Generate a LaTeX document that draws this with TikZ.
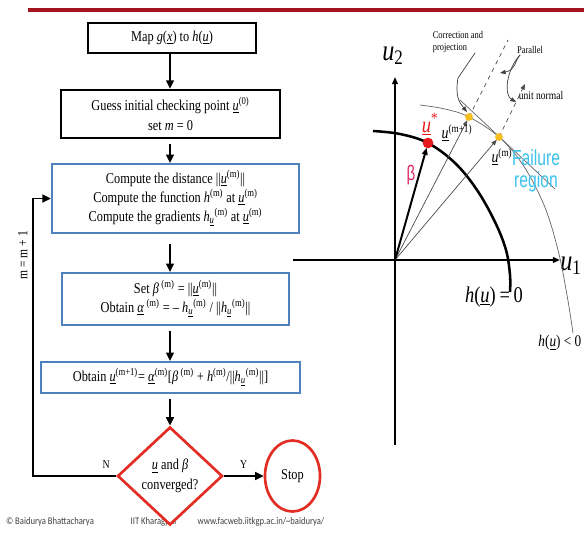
\documentclass[tikz,border=0pt]{standalone}
\usepackage{fontspec}
\setmainfont{Liberation Serif}[FakeStretch=0.82]
\newfontfamily\slidesans{Liberation Sans}[FakeStretch=0.72]
\newfontfamily\footsans{Carlito}[FakeStretch=0.85]
\usepackage{xcolor}
\usepackage{tikz}
\usetikzlibrary{arrows.meta,positioning,shapes.geometric}
\definecolor{slidered}{RGB}{165,20,30}
\definecolor{boxblue}{RGB}{79,129,189}
\definecolor{flowred}{RGB}{225,45,35}
\definecolor{betapink}{RGB}{220,40,100}
\definecolor{failcyan}{RGB}{60,195,235}
\definecolor{dotyellow}{RGB}{245,190,30}
\definecolor{ustarred}{RGB}{230,25,30}
\newcommand{\uvec}{\underline{\textit{u}}}
\newcommand{\supm}{\textsuperscript{(m)}}
\newcommand{\hgrad}{\textit{h}\textsubscript{\uvec}\supm}

\begin{document}
\begin{tikzpicture}[x=0.025cm, y=-0.025cm,
    stepbox/.style={draw, line width=1.8pt, inner sep=0pt, align=center, font=\fontsize{10.7}{13.5}\selectfont},
    bluebox/.style={stepbox, draw=boxblue, line width=1.5pt},
    decision/.style={diamond, draw=flowred, line width=1.9pt, fill=white, inner sep=0pt, align=center, font=\fontsize{10.7}{14}\selectfont},
    stopnode/.style={ellipse, draw=flowred, line width=1.9pt, inner sep=0pt, font=\fontsize{10.7}{13}\selectfont},
    flow/.style={-{Triangle[length=6pt,width=5.5pt]}, line width=1.4pt},
    lbl/.style={font=\fontsize{8.5}{10}\selectfont},
    axis/.style={-{Triangle[length=5pt,width=4pt]}, line width=1.2pt},
    ray/.style={-{Triangle[length=4pt,width=3pt]}, line width=0.5pt, black!70, shorten >=2.5pt},
    thinline/.style={line width=0.5pt, black!60},
    callout/.style={line width=0.5pt, black!75},
    note/.style={font=\fontsize{7.3}{9}\selectfont, align=left},
    foot/.style={font=\footsans\fontsize{7.2}{8}\selectfont, text=black!75},
]
\clip (0,0) rectangle (584,533);
\fill[white] (0,0) rectangle (584,533);

% === Slide rule ===
\draw[slidered, line width=2.2pt] (28,10) -- (584,10);

% === Footer ===
\node[foot] (copy) at (50,522) {© Baidurya Bhattacharya};
\node[foot] (inst) at (154,522) {IIT Kharagpur};
\node[foot] (web) at (261,522) {www.facweb.iitkgp.ac.in/\textasciitilde baidurya/};

% === Flow chart ===
\node[stepbox, minimum width=4.2cm, minimum height=0.75cm] (map) at (172,38)
    {Map \textit{g}(\underline{\textit{x}}) to \textit{h}(\uvec)};
\node[stepbox, minimum width=5.475cm, minimum height=1.2cm, font=\fontsize{10.7}{14.5}\selectfont] (guess) at (170.5,114)
    {Guess initial checking point \uvec\textsuperscript{(0)}\\set \textit{m} = 0};
\node[bluebox, minimum width=6.175cm, minimum height=1.725cm] (comp) at (175.5,198.5)
    {Compute the distance ||\uvec\supm||\\
     Compute the function \textit{h}\supm{} at \uvec\supm\\
     Compute the gradients \hgrad{} at \uvec\supm};
\node[bluebox, minimum width=5.675cm, minimum height=1.3cm] (setb) at (175.5,299)
    {Set \textit{β}\,\supm{} = ||\uvec\supm||\\
     Obtain \underline{\textit{α}}\,\supm{} = – \hgrad{} / ||\hgrad||};
\node[bluebox, minimum width=6.475cm, minimum height=0.775cm] (upd) at (170.5,377.5)
    {Obtain \uvec\textsuperscript{(m+1)}= \underline{\textit{α}}\supm[\textit{β}\,\supm{} + \textit{h}\supm/||\hgrad||]};
\node[decision, minimum width=2.625cm, minimum height=2.45cm] (conv) at (170,476)
    {\uvec{} and \textit{β}\\converged?};
\node[stopnode, minimum width=1.375cm, minimum height=1.775cm] (stop) at (292.5,476) {Stop};
\coordinate (back) at (33,476);

\draw[flow] (conv.north |- map.south) -- (conv.north |- guess.north);
\draw[flow, shorten <=3.5pt] (conv.north |- guess.south) -- (conv.north |- comp.north);
\draw[flow, shorten <=7pt] (conv.north |- comp.south) -- (conv.north |- setb.north);
\draw[flow, shorten <=3.5pt] (conv.north |- setb.south) -- (conv.north |- upd.north);
\draw[flow, shorten <=3.5pt] (upd.south -| conv.north) -- (conv.north);
\draw[flow] (conv.east) -- node[lbl, above=1pt] {Y} (stop.west);
\draw[flow] (conv.west) -- node[lbl, pos=0.12, above=1pt] {N} (back)
    |- node[pos=0.39, rotate=90, above=3pt, font=\fontsize{10}{11}\selectfont] {m = m + 1} (comp.west);

% === Standard normal space ===
\coordinate (O) at (395,260);
\coordinate (ustar) at (428,143);
\coordinate (ump1) at (469,117);
\coordinate (um) at (499,137);

\draw[axis] (293,260) -- (560,260);
\draw[axis] (395,445) -- (395,77);
\node[font=\fontsize{21}{21}\selectfont] (u1) at (571,266) {\textit{u}\textsubscript{1}};
\node[font=\fontsize{21}{21}\selectfont] (u2) at (393,56) {\textit{u}\textsubscript{2}};

% limit state h(u)=0
\draw[line width=1.8pt] plot[smooth, tension=0.6] coordinates
    {(373,131) (400,134) (428,143) (455,163) (477,190) (495,222) (506,250) (510,275) (510,292)};
% linearised surface and approximation
\draw[thinline] plot[smooth, tension=0.6] coordinates
    {(420,105) (445,109) (469,117) (499,137) (523,165) (544,205) (558,250) (567,295) (573,333)};
\draw[thinline] (460,100) -- (555,189);

% rays from origin
\draw[ray] (O) -- (ump1);
\draw[ray] (O) -- (um);
\draw[-{Triangle[length=5pt,width=4pt]}, line width=1.4pt, shorten >=3.5pt] (O) -- (ustar);
\draw[dashed, line width=0.5pt, black!70] (ump1) -- (508,40);
\draw[dashed, line width=0.5pt, black!70, -{Triangle[length=4pt,width=3pt]}] (um) -- (525,84);

% callouts
\draw[callout, -{Triangle[length=4pt,width=3pt]}] (475,53) -- (458,78)
    .. controls (455,96) and (459,102) .. (467,112);
\draw[callout, -{Triangle[length=4pt,width=3pt]}] (520,55)
    .. controls (514,62) and (516,70) .. (500,73);
\draw[callout, -{Triangle[length=4pt,width=3pt]}] (520,55)
    .. controls (506,70) and (504,95) .. (516,102);

\fill[dotyellow] (ump1) circle[radius=2.8pt];
\fill[dotyellow] (um) circle[radius=2.8pt];
\fill[ustarred] (ustar) circle[radius=3.8pt];

% labels
\node[note] (corr) at (458,42) {Correction and\\projection};
\node[note] (par) at (530,50) {Parallel};
\node[note, font=\fontsize{8.3}{9}\selectfont] (unorm) at (541,96) {unit normal};
\node[text=ustarred, font=\fontsize{16}{16}\selectfont] (ustarlbl) at (430,124) {\uvec\textsuperscript{*}};
\node[font=\fontsize{12}{12}\selectfont] (ump1lbl) at (457,133) {\uvec\textsuperscript{(m+1)}};
\node[font=\fontsize{12}{12}\selectfont] (umlbl) at (502,157) {\uvec\textsuperscript{(m)}};
\node[text=betapink, font=\slidesans\fontsize{15}{15}\selectfont] (betalbl) at (411,175) {β};
\node[text=failcyan, font=\slidesans\fontsize{15.5}{16}\selectfont, align=center] (fail) at (536,171) {Failure\\region};
\node[font=\fontsize{16}{16}\selectfont] (hzero) at (494,297) {\textit{h}(\uvec)\,=\,0};
\node[font=\fontsize{11.5}{12}\selectfont, anchor=east, inner sep=1pt] (hneg) at (583,343) {\textit{h}(\uvec) < 0};
\end{tikzpicture}
\end{document}
